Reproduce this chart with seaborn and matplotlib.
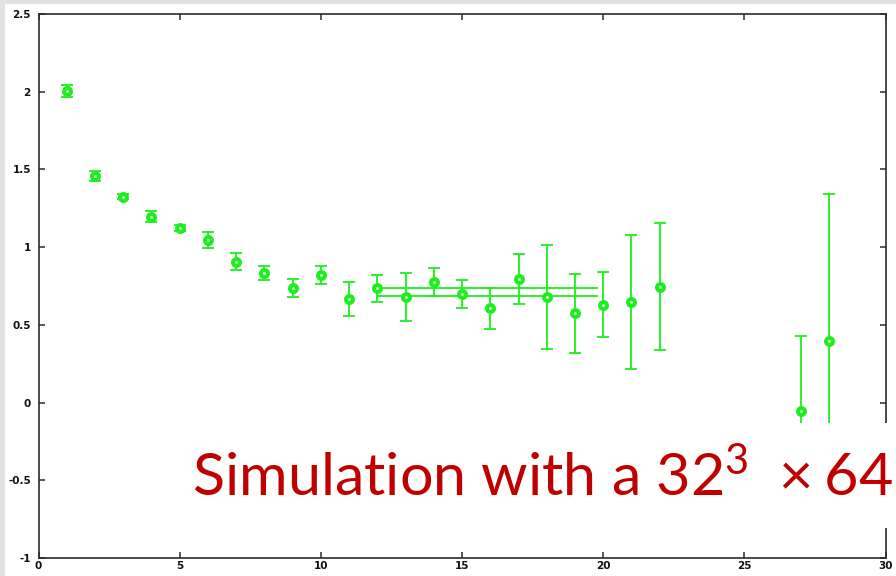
import matplotlib
matplotlib.use("Agg")
import matplotlib.pyplot as plt
from matplotlib.patches import Rectangle
import numpy as np
import pandas as pd
import seaborn as sns

# Effective-mass style data: time slice, value, symmetric error
t_slice = [1, 2, 3, 4, 5, 6, 7, 8, 9, 10, 11, 12, 13, 14, 15, 16, 17, 18, 19, 20, 21, 22, 27, 28]
value = [2.006, 1.458, 1.325, 1.196, 1.125, 1.046, 0.906, 0.836, 0.737, 0.821, 0.668, 0.735,
         0.681, 0.778, 0.696, 0.606, 0.795, 0.681, 0.574, 0.630, 0.649, 0.746, -0.052, 0.394]
error = [0.040, 0.030, 0.015, 0.035, 0.020, 0.050, 0.055, 0.045, 0.060, 0.060, 0.110, 0.085,
         0.155, 0.090, 0.090, 0.134, 0.160, 0.335, 0.255, 0.210, 0.430, 0.410, 0.480, 0.946]

# Fit band (upper / lower) over the plateau window
fit_levels = [0.739, 0.688]
fit_window = [12, 19.8]

x_ticks = [0, 5, 10, 15, 20, 25, 30]
y_ticks = [-1, -0.5, 0, 0.5, 1, 1.5, 2, 2.5]
x_tick_labels = ["0", "5", "10", "15", "20", "25", "30"]
y_tick_labels = ["-1", "-0.5", "0", "0.5", "1", "1.5", "2", "2.5"]

caption = r"Simulation with a $\mathregular{32^3\;\times 64}$"

GREEN = "#1dee1d"
DARK = "#2b2b2b"
CAPTION_FONT = ["Lato", "DejaVu Sans"]

sns.set_theme(style="white")
plt.rcParams["mathtext.fontset"] = "custom"
plt.rcParams["mathtext.rm"] = "Lato"
plt.rcParams["font.family"] = ["DejaVu Sans"]

df = pd.DataFrame({"t": t_slice, "m": value, "err": error})

fig = plt.figure(figsize=(8.96, 5.76), dpi=100, facecolor="#e2e2e2")
# white sheet the plot sits on
fig.patches.append(Rectangle((5 / 896, 0), 1, 572 / 576, transform=fig.transFigure,
                             facecolor="white", edgecolor="none", zorder=-5))

ax = fig.add_axes([38.5 / 896, 18 / 576, (885.6 - 38.5) / 896, (558 - 14) / 576])
ax.set_facecolor("white")

ax.errorbar(df["t"], df["m"], yerr=df["err"], fmt="none", ecolor=GREEN,
            elinewidth=1.3, capsize=4.5, capthick=1.3, zorder=2)
sns.scatterplot(data=df, x="t", y="m", ax=ax, marker="o", s=26, color="#c8ffc8",
                edgecolor=GREEN, linewidth=2.8, zorder=3, legend=False)
ax.hlines(fit_levels, fit_window[0], fit_window[1], colors=GREEN, linewidth=1.3, zorder=2)

ax.set_xlim(0, 30)
ax.set_ylim(-1, 2.5)
ax.set_xticks(x_ticks)
ax.set_xticklabels(x_tick_labels)
ax.set_yticks(y_ticks)
ax.set_yticklabels(y_tick_labels)
ax.set_xlabel("")
ax.set_ylabel("")

for sp in ax.spines.values():
    sp.set_visible(True)
    sp.set_color(DARK)
    sp.set_linewidth(1.2)

ax.tick_params(axis="both", which="major", direction="in", length=4.5, width=1.1,
               color=DARK, labelsize=7.5, labelcolor="#111111",
               top=True, right=True, bottom=True, left=True)
ax.tick_params(axis="y", pad=5.5)
ax.tick_params(axis="x", pad=2.5)
for lbl in ax.get_xticklabels() + ax.get_yticklabels():
    lbl.set_fontweight("bold")

# caption panel overlaid on the lower part of the plot
fig.patches.append(Rectangle((185 / 896, (576 - 528) / 576), 1, (528 - 423) / 576,
                             transform=fig.transFigure, facecolor="white",
                             edgecolor="none", zorder=5))
cap = fig.text(192 / 896, (576 - 495) / 576, caption, fontsize=44, color="#c00000",
               family=CAPTION_FONT, ha="left", va="baseline", zorder=6)

# shrink the caption so it ends just inside the right edge
renderer = fig.canvas.get_renderer()
width_px = cap.get_window_extent(renderer).width
target_px = 894 - 192
if width_px > target_px:
    cap.set_fontsize(44 * target_px / width_px)

fig.savefig("out.png", dpi=100, facecolor=fig.get_facecolor())
